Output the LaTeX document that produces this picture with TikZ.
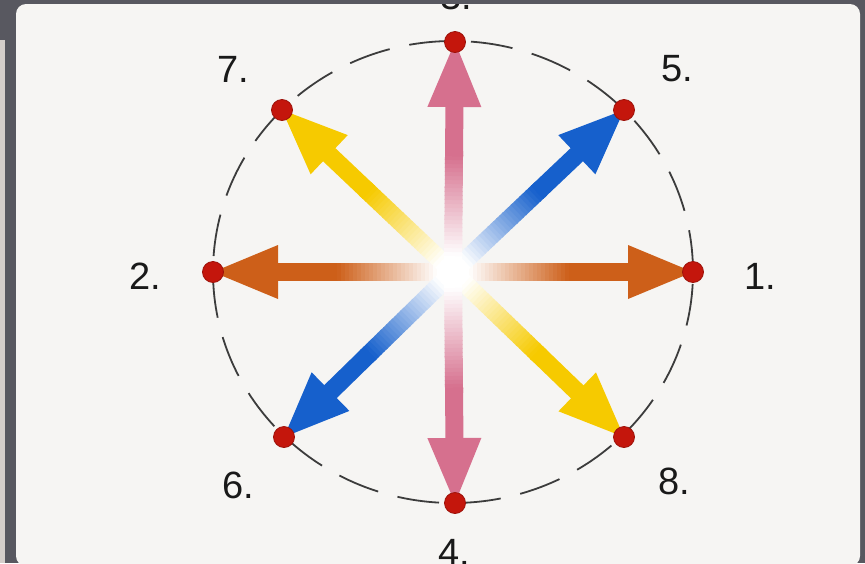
\documentclass[tikz,border=0pt]{standalone}
\usepackage{fontspec}
\setmainfont{Liberation Sans}
\usetikzlibrary{calc}
\definecolor{frame}{RGB}{88,88,96}
\definecolor{panel}{RGB}{246,245,243}
\definecolor{strip}{RGB}{212,206,202}
\definecolor{cpink}{RGB}{214,112,142}
\definecolor{corange}{RGB}{205,95,25}
\definecolor{cyellow}{RGB}{246,202,0}
\definecolor{cblue}{RGB}{22,96,204}
\definecolor{cdot}{RGB}{196,22,12}
\definecolor{ink}{RGB}{25,25,25}
\tikzset{
  dotnode/.style={circle,fill=cdot,draw=cdot!80!black,line width=0.8pt,minimum size=21pt,inner sep=0pt},
  lbl/.style={text=ink,inner sep=0pt,font=\fontsize{38}{40}\selectfont},
  ring/.style={draw=ink!85,line width=1.8pt,dash pattern=on 42pt off 20pt},
}
\newcommand\spoke[2]{%
  \foreach \r in {0,4,...,116}{%
    \pgfmathtruncatemacro\p{max(0,min(100,(\r-14)*100/100))}%
    \draw[line width=18pt,#2!\p!white] ($(c)!{\r pt}!(#1)$) -- ($(c)!{\r pt+5pt}!(#1)$);
  }
  \draw[line width=18pt,#2] ($(c)!116pt!(#1)$) -- ($(#1)!60pt!(c)$);
  \coordinate (hb) at ($(#1)!65pt!(c)$);
  \fill[#2] (#1) -- ($(hb)!27pt!90:(#1)$) -- ($(hb)!27pt!-90:(#1)$) -- cycle;
}
\begin{document}
\begin{tikzpicture}[x=1pt,y=-1pt]
\useasboundingbox (0,0) rectangle (865,563);
\fill[frame] (0,0) rectangle (865,563);
\fill[strip] (0,40) rectangle (5,563);
\fill[panel,rounded corners=10pt] (16,4) rectangle (860,566);
\begin{scope}
\clip[rounded corners=10pt] (16,4) rectangle (860,566);
\coordinate (c) at (453,272);
\draw[ring] (c) ellipse [x radius=240pt, y radius=231pt];
\path (693,272) coordinate (p1);
\path (213,272) coordinate (p2);
\path (455,42) coordinate (p3);
\path (455,503) coordinate (p4);
\path (624,110) coordinate (p5);
\path (284,437) coordinate (p6);
\path (282,110) coordinate (p7);
\path (624,437) coordinate (p8);
\spoke{p1}{corange}
\spoke{p2}{corange}
\spoke{p7}{cyellow}
\spoke{p8}{cyellow}
\spoke{p5}{cblue}
\spoke{p6}{cblue}
\spoke{p3}{cpink}
\spoke{p4}{cpink}
\fill[white] (c) circle (16pt);
\foreach \k in {1,...,8}{\node[dotnode] (d\k) at (p\k) {};}
\node[lbl] (l1) at (760,276) {1.};
\node[lbl] (l2) at (145,276) {2.};
\node[lbl] (l3) at (456,-4) {3.};
\node[lbl] (l4) at (454,552) {4.};
\node[lbl] (l5) at (677,69) {5.};
\node[lbl] (l6) at (238,485) {6.};
\node[lbl] (l7) at (233,69) {7.};
\node[lbl] (l8) at (674,481) {8.};
\end{scope}
\end{tikzpicture}
\end{document}
